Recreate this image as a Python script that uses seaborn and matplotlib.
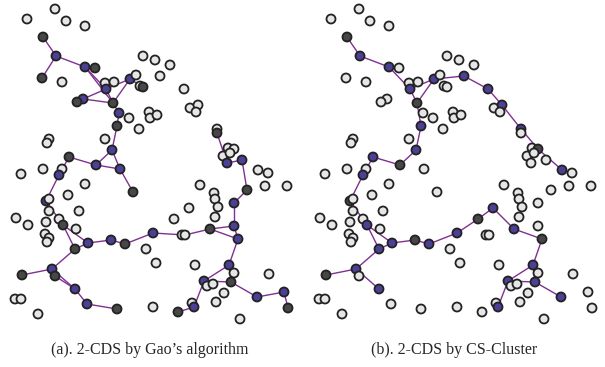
import matplotlib
matplotlib.use('Agg')
import matplotlib.pyplot as plt
import seaborn as sns
import pandas as pd

sns.set_style('white')
plt.rcParams['font.family'] = ['Liberation Serif', 'DejaVu Serif']

# node positions (same deployment in both panels)
node_x = [55, 27, 66, 85, 43, 56, 143, 155, 170, 42, 62, 85, 95, 105, 114, 130, 136, 140, 143, 160,
          106, 83, 77, 113, 119, 129, 149, 150, 157, 117, 139, 184, 190, 198, 196, 49, 47, 105, 112, 69,
          217, 217, 228, 234, 223, 230, 242, 227, 258, 268, 247, 265, 287, 200, 214, 215, 218, 189, 234, 174,
          215, 234, 210, 238, 153, 182, 185, 146, 156, 195, 229, 234, 269, 204, 231, 207, 213, 224, 257, 284,
          288, 192, 194, 178, 153, 216, 240, 96, 120, 133, 21, 43, 62, 59, 85, 46, 49, 68, 49, 79,
          16, 28, 46, 59, 63, 76, 45, 49, 47, 88, 111, 125, 75, 52, 22, 55, 75, 15, 21, 87,
          117, 38]
node_y = [9, 19, 21, 26, 37, 56, 56, 60, 65, 78, 82, 67, 68, 83, 82, 79, 75, 86, 87, 76,
          89, 99, 102, 103, 113, 118, 112, 118, 115, 126, 129, 89, 108, 105, 112, 139, 143, 139, 150, 157,
          129, 133, 148, 149, 156, 153, 160, 163, 170, 173, 190, 186, 186, 185, 193, 199, 207, 208, 203, 219,
          217, 226, 229, 239, 233, 235, 235, 249, 263, 265, 265, 273, 274, 281, 282, 286, 284, 293, 297, 292,
          308, 303, 307, 312, 307, 302, 319, 165, 169, 192, 174, 169, 169, 175, 184, 201, 199, 195, 211, 211,
          218, 225, 222, 219, 225, 229, 234, 238, 242, 243, 240, 244, 249, 269, 275, 276, 289, 299, 299, 304,
          309, 314]

# backbone members per panel
gao_blue = [5, 11, 15, 20, 21, 24, 38, 46, 47, 58, 61, 63, 64, 70, 73, 78, 79, 82, 87, 88,
            93, 95, 109, 110, 113, 116, 119]
gao_dark = [4, 9, 12, 18, 22, 23, 29, 39, 41, 50, 62, 74, 80, 83, 89, 104, 111, 112, 114, 115, 120]
gao_edges = [(4, 5), (5, 9), (5, 11), (11, 20), (11, 23), (20, 15), (15, 18), (15, 23), (20, 23),
             (21, 20), (21, 23), (23, 24), (24, 29), (29, 38), (38, 87), (38, 88), (87, 88), (88, 89),
             (39, 87), (39, 93), (93, 95), (95, 104), (104, 112), (104, 109), (112, 109), (109, 110),
             (110, 111), (111, 64), (64, 66), (66, 62), (62, 61), (62, 63), (61, 63), (61, 58), (58, 50),
             (50, 46), (46, 47), (47, 41), (63, 70), (70, 73), (70, 74), (73, 74), (74, 78), (78, 79),
             (79, 80), (73, 82), (82, 83), (112, 113), (113, 114), (113, 116), (115, 116), (116, 119),
             (119, 120)]

cs_blue = [5, 11, 15, 19, 20, 29, 31, 33, 38, 39, 40, 48, 57, 62, 64, 70, 73, 74, 78, 82,
           93, 104, 109, 111, 112, 113, 116]
cs_dark = [4, 23, 43, 59, 63, 87, 95, 110, 114]
cs_edges = [(4, 5), (5, 11), (11, 20), (20, 15), (20, 23), (15, 23), (15, 19), (19, 31), (31, 33),
            (33, 40), (40, 43), (43, 48), (23, 29), (29, 38), (38, 87), (87, 39), (39, 93), (93, 95),
            (95, 104), (104, 112), (104, 109), (112, 109), (109, 110), (110, 111), (111, 64), (64, 59),
            (59, 57), (57, 62), (62, 63), (63, 70), (70, 73), (70, 74), (73, 74), (74, 78), (73, 82),
            (112, 113), (113, 114), (113, 116)]

captions = ["(a). 2-CDS by Gao\u2019s algorithm", "(b). 2-CDS by CS-Cluster"]

role_colors = {'white': '#e6e6e6', 'dark': '#474747', 'blue': '#4b3f96'}

fig = plt.figure(figsize=(6.05, 3.67), dpi=100)
panels = [(0, gao_blue, gao_dark, gao_edges), (304, cs_blue, cs_dark, cs_edges)]

for (x0, blue, dark, edges), cap in zip(panels, captions):
    ax = fig.add_axes([x0 / 605, 37 / 367, 300 / 605, 330 / 367])
    df = pd.DataFrame({'x': node_x, 'y': node_y})
    df['role'] = 'white'
    df.loc[dark, 'role'] = 'dark'
    df.loc[blue, 'role'] = 'blue'
    for a, b in edges:
        ax.plot([node_x[a], node_x[b]], [node_y[a], node_y[b]], color='#822f92', lw=1.0, zorder=1)
    sns.scatterplot(data=df, x='x', y='y', hue='role', palette=role_colors, s=42,
                    edgecolor='#222222', linewidth=1.3, legend=False, ax=ax, zorder=2)
    ax.set_xlim(0, 300)
    ax.set_ylim(330, 0)
    ax.axis('off')
    fig.text((x0 + 150) / 605, 1 - 350 / 367, cap, ha='center', va='center', fontsize=11.5)

plt.savefig('out.png', dpi=100)
